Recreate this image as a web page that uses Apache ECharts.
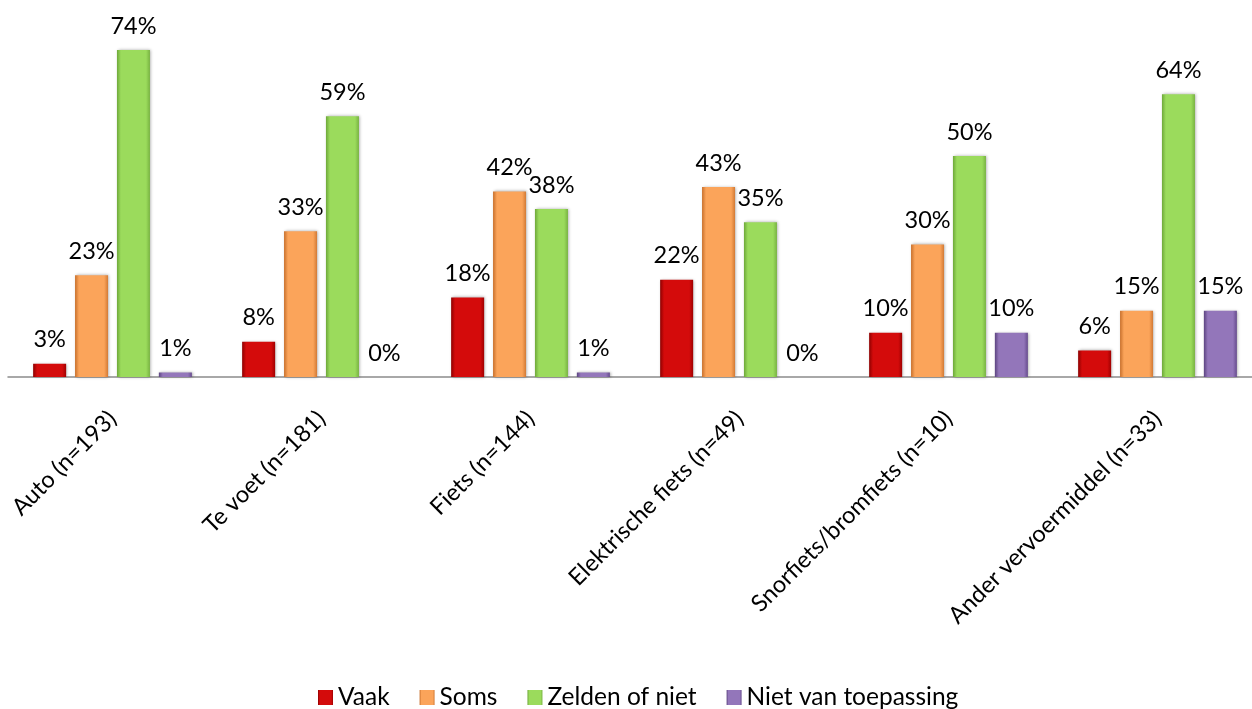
<!DOCTYPE html>
<html>
<head>
<meta charset="utf-8">
<script src="https://cdn.jsdelivr.net/npm/echarts@6/dist/echarts.min.js"></script>
<style>
html,body{margin:0;padding:0;background:#fff;overflow:hidden;width:1252px;height:709px;}
#chart{width:1262px;height:709px;}
</style>
</head>
<body>
<div id="chart"></div>
<script>
const categories = ['Auto (n=193)', 'Te voet (n=181)', 'Fiets (n=144)', 'Elektrische fiets (n=49)', 'Snorfiets/bromfiets (n=10)', 'Ander vervoermiddel (n=33)'];
const vaak = [3, 8, 18, 22, 10, 6];
const soms = [23, 33, 42, 43, 30, 15];
const zelden = [74, 59, 38, 35, 50, 64];
const nietVanToepassing = [1, 0, 1, 0, 10, 15];
const seriesNames = ['Vaak', 'Soms', 'Zelden of niet', 'Niet van toepassing'];
const colors = [
  ['#8e0000', '#d40b0b', '#a00000'],
  ['#c8702c', '#fba45a', '#d27a35'],
  ['#6ea83a', '#9bdb5c', '#78b341'],
  ['#5c4480', '#9376ba', '#664b8d']
];
const FONT = 'Lato';

function grad(c) {
  return new echarts.graphic.LinearGradient(0, 0, 1, 0, [
    {offset: 0, color: c[0]},
    {offset: 0.12, color: c[1]},
    {offset: 0.88, color: c[1]},
    {offset: 1, color: c[2]}
  ]);
}

const dataSets = [vaak, soms, zelden, nietVanToepassing];
const series = dataSets.map((d, i) => ({
  name: seriesNames[i],
  type: 'bar',
  data: d,
  barWidth: 33,
  barGap: '27%',
  itemStyle: {
    color: grad(colors[i]),
    shadowBlur: 3,
    shadowColor: 'rgba(0,0,0,0.35)',
    shadowOffsetX: 1,
    shadowOffsetY: 0
  },
  label: {
    show: true,
    position: 'top',
    distance: 12,
    formatter: p => p.value + '%',
    fontFamily: FONT,
    fontSize: 23.5,
    color: '#000'
  }
}));

const chart = echarts.init(document.getElementById('chart'), null, {renderer: 'canvas'});
chart.setOption({
  animation: false,
  backgroundColor: '#fff',
  color: colors.map(c => c[1]),
  legend: {
    top: 680,
    left: 313,
    itemWidth: 15,
    itemHeight: 15,
    itemGap: 30,
    icon: 'rect',
    textStyle: {fontFamily: FONT, fontSize: 24.5, color: '#000'},
    data: seriesNames.map((n, i) => ({name: n, itemStyle: {color: grad(colors[i])}}))
  },
  grid: {left: 8, right: 0, top: 23.5, bottom: 332, containLabel: false},
  xAxis: {
    type: 'category',
    data: categories,
    axisLine: {lineStyle: {color: '#8c8c8c', width: 1.5}},
    axisTick: {show: false},
    axisLabel: {
      rotate: 45,
      interval: 0,
      margin: 38,
      fontFamily: FONT,
      fontSize: 23.5,
      color: '#000'
    }
  },
  yAxis: {
    type: 'value',
    min: 0,
    max: 80,
    interval: 10,
    show: false,
    splitLine: {show: false}
  },
  series: series
});
</script>
</body>
</html>
